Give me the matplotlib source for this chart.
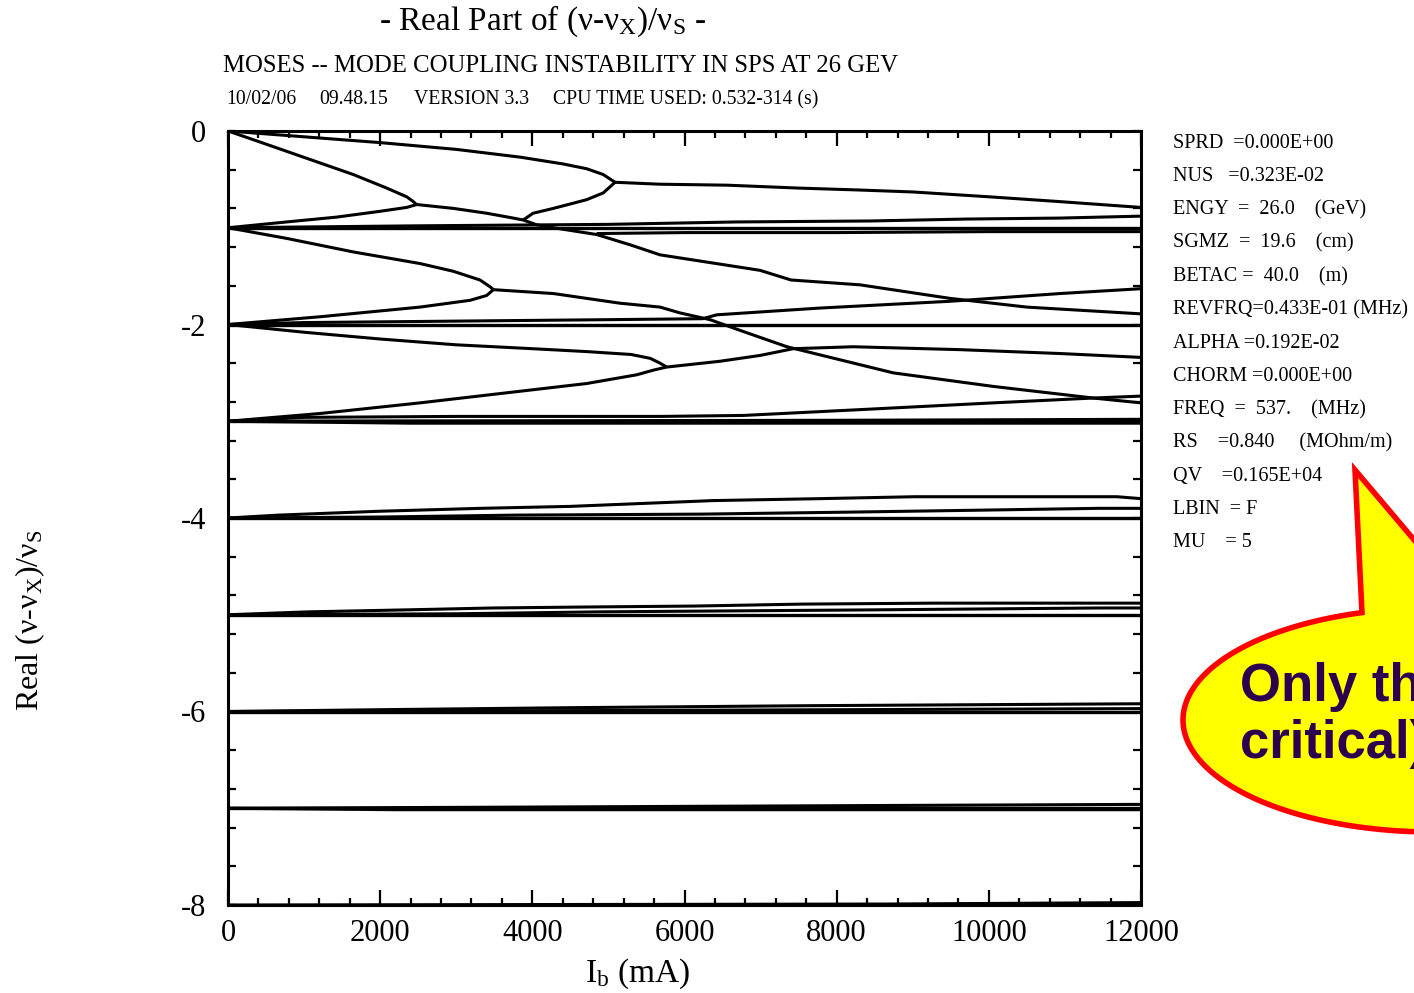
import numpy as np
import matplotlib
matplotlib.use("Agg")
import matplotlib.pyplot as plt
from matplotlib.patches import Polygon
from matplotlib.ticker import MultipleLocator

plt.rcParams['font.family'] = ['Liberation Serif', 'DejaVu Serif']
plt.rcParams['mathtext.fontset'] = 'custom'
plt.rcParams['mathtext.rm'] = 'Liberation Serif'
plt.rcParams['mathtext.it'] = 'Liberation Serif:italic'
plt.rcParams['axes.unicode_minus'] = False

# ---- curves: Ib (mA) -> Re(nu - nu_x)/nu_s ----
# modes 0 / -1
m0_slow_x = [0, 1000, 2000, 3000, 3838, 4400, 4714, 4932, 5087]
m0_slow_y = [0, -0.06, -0.12, -0.19, -0.27, -0.34, -0.39, -0.45, -0.53]
m0_fast_x = [0, 333, 771, 1209, 1647, 2086, 2348, 2420, 2480]
m0_fast_y = [0, -0.09, -0.21, -0.33, -0.45, -0.59, -0.68, -0.72, -0.76]
m1_up_x = [0, 771, 1428, 1998, 2348, 2480]
m1_up_y = [-1.0, -0.94, -0.89, -0.83, -0.79, -0.76]
c01_x = [2480, 2963, 3400, 3750, 3880]
c01_y = [-0.76, -0.80, -0.85, -0.90, -0.92]
split_up_x = [3880, 4010, 4276, 4714, 4932, 5087]
split_up_y = [-0.92, -0.85, -0.80, -0.71, -0.64, -0.53]
c00_x = [5087, 5678, 6560, 7500, 8300, 9000, 10000, 10935, 12000]
c00_y = [-0.53, -0.55, -0.56, -0.59, -0.61, -0.63, -0.68, -0.73, -0.79]
split_down_x = [3880, 4057, 4276, 4845, 5300, 5678, 6992, 7400, 8306, 9490, 10497, 12000]
split_down_y = [-0.92, -0.97, -1.00, -1.07, -1.18, -1.28, -1.44, -1.54, -1.59, -1.73, -1.82, -1.89]
m1_flat_x = [4845, 6000, 8000, 10000, 12000]
m1_flat_y = [-1.06, -1.05, -1.05, -1.04, -1.04]
m1_rise_x = [0, 2500, 5000, 6686, 8437, 9709, 10935, 12000]
m1_rise_y = [-1.0, -0.98, -0.965, -0.94, -0.93, -0.91, -0.90, -0.88]

# modes -1 / -2
m1_down_x = [0, 771, 1647, 2524, 2962, 3312, 3444, 3488]
m1_down_y = [-1.0, -1.11, -1.25, -1.37, -1.45, -1.54, -1.61, -1.64]
m2_up_x = [0, 1209, 2524, 3181, 3400, 3488]
m2_up_y = [-2.0, -1.92, -1.82, -1.75, -1.70, -1.64]
c12_x = [3488, 4276, 5152, 5678, 5940, 6335, 6800, 7347, 8744, 10058, 11372, 12000]
c12_y = [-1.64, -1.68, -1.78, -1.82, -1.88, -1.95, -2.08, -2.23, -2.50, -2.64, -2.76, -2.81]
m2_rise_x = [0, 1000, 5000, 6240, 6423, 7780, 9490, 10935, 12000]
m2_rise_y = [-2.0, -1.98, -1.95, -1.94, -1.90, -1.83, -1.76, -1.68, -1.63]

# modes -2 / -3
m2_down_x = [0, 1000, 2000, 3000, 4000, 4714, 5300, 5550, 5680, 5765]
m2_down_y = [-2.0, -2.08, -2.15, -2.21, -2.25, -2.28, -2.31, -2.35, -2.40, -2.44]
m3_up_x = [0, 1209, 2524, 3838, 4714, 5371, 5600, 5765]
m3_up_y = [-3.0, -2.92, -2.81, -2.69, -2.61, -2.52, -2.47, -2.44]
c23_x = [5765, 6466, 6992, 7430, 8218, 9620, 10935, 12000]
c23_y = [-2.44, -2.38, -2.32, -2.25, -2.23, -2.26, -2.30, -2.34]
m3_rise_x = [0, 1000, 3000, 5700, 6773, 8306, 10058, 11372, 12000]
m3_rise_y = [-3.0, -2.96, -2.95, -2.95, -2.94, -2.88, -2.81, -2.76, -2.74]
m3_low_x = [0, 2400, 12000]
m3_low_y = [-3.0, -3.02, -3.02]
m3_hi_x = [0, 8000, 12000]
m3_hi_y = [-3.0, -2.99, -2.98]

# modes -4 ... -8
m4_a_x = [0, 670, 1998, 3325, 4495, 6375, 7780, 9029, 11684, 12000]
m4_a_y = [-4.0, -3.97, -3.93, -3.90, -3.88, -3.82, -3.80, -3.78, -3.78, -3.80]
m4_b_x = [0, 2000, 3800, 6220, 8100, 9805, 11450, 12000]
m4_b_y = [-4.0, -3.99, -3.97, -3.96, -3.94, -3.92, -3.90, -3.90]
m5_a_x = [0, 1065, 2313, 3483, 4692, 6138, 7544, 9266, 12000]
m5_a_y = [-5.0, -4.97, -4.95, -4.93, -4.92, -4.91, -4.89, -4.88, -4.88]
m5_b_x = [0, 3000, 4890, 8400, 11450, 12000]
m5_b_y = [-5.0, -4.99, -4.97, -4.95, -4.93, -4.93]
m6_a_x = [0, 2155, 4573, 7620, 12000]
m6_a_y = [-6.0, -5.98, -5.96, -5.94, -5.92]
m6_b_x = [0, 5000, 12000]
m6_b_y = [-6.0, -5.99, -5.97]
m7_a_x = [0, 3300, 7600, 12000]
m7_a_y = [-7.0, -6.99, -6.975, -6.96]
m7_b_x = [0, 2200, 12000]
m7_b_y = [-7.0, -7.015, -7.015]
m8_x = [0, 8680, 12000]
m8_y = [-8.0, -7.99, -7.975]

# unperturbed modes
flat_levels = [-1, -2, -3, -4, -5, -6, -7]

curves = [
    (m0_slow_x, m0_slow_y), (m0_fast_x, m0_fast_y), (m1_up_x, m1_up_y),
    (c01_x, c01_y), (split_up_x, split_up_y), (c00_x, c00_y),
    (split_down_x, split_down_y), (m1_flat_x, m1_flat_y), (m1_rise_x, m1_rise_y),
    (m1_down_x, m1_down_y), (m2_up_x, m2_up_y), (c12_x, c12_y), (m2_rise_x, m2_rise_y),
    (m2_down_x, m2_down_y), (m3_up_x, m3_up_y), (c23_x, c23_y), (m3_rise_x, m3_rise_y),
    (m3_low_x, m3_low_y), (m3_hi_x, m3_hi_y),
    (m4_a_x, m4_a_y), (m4_b_x, m4_b_y), (m5_a_x, m5_a_y), (m5_b_x, m5_b_y),
    (m6_a_x, m6_a_y), (m6_b_x, m6_b_y), (m7_a_x, m7_a_y), (m7_b_x, m7_b_y),
    (m8_x, m8_y),
]

title = "- Real Part of (ν-ν$_\\mathrm{X}$)/ν$_\\mathrm{S}$ -"
subtitle = "MOSES -- MODE COUPLING INSTABILITY IN SPS AT 26 GEV"
header_items = ["10/02/06", "09.48.15", "VERSION 3.3", "CPU TIME USED: 0.532-314 (s)"]
params = [
    "SPRD  =0.000E+00",
    "NUS   =0.323E-02",
    "ENGY  =  26.0    (GeV)",
    "SGMZ  =  19.6    (cm)",
    "BETAC =  40.0    (m)",
    "REVFRQ=0.433E-01 (MHz)",
    "ALPHA =0.192E-02",
    "CHORM =0.000E+00",
    "FREQ  =  537.    (MHz)",
    "RS    =0.840     (MOhm/m)",
    "QV    =0.165E+04",
    "LBIN  = F",
    "MU    = 5",
]
callout_lines = ["Only the", "critical)"]

W, H = 1414, 993
fig = plt.figure(figsize=(W / 100, H / 100), dpi=100)
ax = fig.add_axes([228 / W, 1 - 905 / H, 913 / W, 774 / H])

for lvl in flat_levels:
    ax.plot([0, 12000], [lvl, lvl], color='black', lw=2.4, solid_capstyle='butt')
for xs, ys in curves:
    ax.plot(xs, ys, color='black', lw=2.2, solid_capstyle='butt', solid_joinstyle='round')

ax.set_xlim(0, 12000)
ax.set_ylim(-8, 0)
ax.xaxis.set_major_locator(MultipleLocator(2000))
ax.xaxis.set_minor_locator(MultipleLocator(400))
ax.yaxis.set_major_locator(MultipleLocator(2))
ax.yaxis.set_minor_locator(MultipleLocator(0.4))
ax.tick_params(which='both', direction='in', top=True, right=True, width=1.6,
               labelsize=22, colors='black')
ax.tick_params(axis='x', which='major', length=11, pad=10)
ax.tick_params(axis='x', which='minor', length=5)
ax.tick_params(axis='y', which='both', length=6, pad=16)
for s in ax.spines.values():
    s.set_linewidth(2.2)

fig.text(30 / W, 1 - 620 / H, "Real (ν-ν$_\\mathrm{X}$)/ν$_\\mathrm{S}$", rotation=90,
         ha='center', va='center', fontsize=23)
fig.text(585 / W, 1 - 982 / H, "I$_\\mathrm{b}$ (mA)", ha='left', va='baseline', fontsize=24)

fig.text(543 / W, 1 - 30 / H, title, ha='center', va='baseline', fontsize=24)
fig.text(223 / W, 1 - 72 / H, subtitle, ha='left', va='baseline', fontsize=17.8)
for txt, xp in zip(header_items, [226, 319, 414, 553]):
    fig.text(xp / W, 1 - 104 / H, txt, ha='left', va='baseline', fontsize=14.2)
for i, txt in enumerate(params):
    fig.text(1173 / W, 1 - (148 + 33.25 * i) / H, txt, ha='left', va='baseline', fontsize=14.5)

# speech bubble (cut by the right border, as in the original slide)
cx, cy, a, b = 1433, 720, 250, 112
t = np.radians(np.linspace(-106.5, -440.8, 200))
ex = cx + a * np.cos(t)
ey = cy + b * np.sin(t)
px = np.concatenate([[1355], ex, [1355]])
py = np.concatenate([[470], ey, [470]])
bubble = Polygon(np.column_stack([px / W, 1 - py / H]), closed=True,
                 facecolor='#ffff00', edgecolor='#ff0000', lw=4,
                 transform=fig.transFigure, joinstyle='miter')
fig.add_artist(bubble)
for txt, yb in zip(callout_lines, [701, 758]):
    fig.text(1240 / W, 1 - yb / H, txt, ha='left', va='baseline', fontsize=38,
             family='Liberation Sans', weight='bold', color='#2d004f')

fig.savefig("out.png", dpi=100)
